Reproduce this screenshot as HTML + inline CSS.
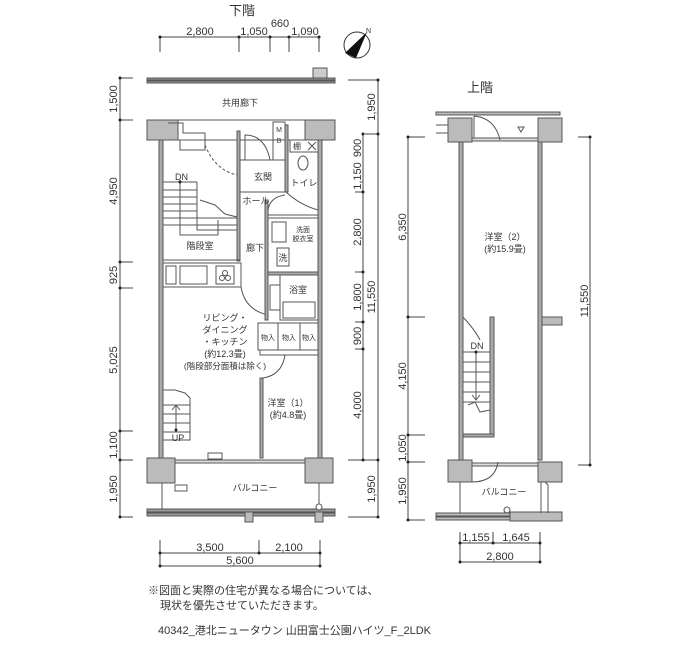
<!DOCTYPE html>
<html><head><meta charset="utf-8"><style>
html,body{margin:0;padding:0;background:#fff;}
svg{display:block;}
text{font-family:"Liberation Sans","Noto Sans CJK JP",sans-serif;fill:#333;}
.d{font-size:11px;}
.l{font-size:9px;}
</style></head><body>
<svg width="700" height="650" viewBox="0 0 700 650" xmlns="http://www.w3.org/2000/svg">
<g stroke="#444" stroke-width="1" fill="none">
<line x1="160" y1="37" x2="319" y2="37"/>
<line x1="160" y1="37" x2="160" y2="52"/><line x1="239" y1="37" x2="239" y2="52"/><line x1="270" y1="37" x2="270" y2="52"/><line x1="289" y1="37" x2="289" y2="52"/><line x1="319" y1="37" x2="319" y2="52"/>
<line x1="120" y1="78" x2="120" y2="517"/>
<line x1="120" y1="78" x2="133" y2="78"/><line x1="120" y1="120" x2="133" y2="120"/><line x1="120" y1="262" x2="133" y2="262"/><line x1="120" y1="288" x2="133" y2="288"/><line x1="120" y1="431" x2="133" y2="431"/><line x1="120" y1="460" x2="133" y2="460"/><line x1="120" y1="517" x2="133" y2="517"/>
<line x1="378" y1="80" x2="378" y2="517"/>
<line x1="348" y1="80" x2="378" y2="80"/><line x1="365" y1="134" x2="378" y2="134"/><line x1="348" y1="460" x2="378" y2="460"/><line x1="348" y1="517" x2="378" y2="517"/>
<line x1="363" y1="134" x2="363" y2="460"/>
<line x1="355" y1="192" x2="363" y2="192"/><line x1="355" y1="272" x2="363" y2="272"/><line x1="355" y1="322" x2="363" y2="322"/><line x1="355" y1="349" x2="363" y2="349"/>
<line x1="160" y1="553" x2="320" y2="553"/><line x1="160" y1="566" x2="320" y2="566"/>
<line x1="160" y1="540" x2="160" y2="566"/><line x1="259" y1="540" x2="259" y2="553"/><line x1="320" y1="540" x2="320" y2="566"/>
<line x1="408" y1="137" x2="408" y2="520"/>
<line x1="408" y1="137" x2="425" y2="137"/><line x1="408" y1="317" x2="425" y2="317"/><line x1="408" y1="435" x2="425" y2="435"/><line x1="408" y1="462" x2="425" y2="462"/><line x1="408" y1="520" x2="425" y2="520"/>
<line x1="590" y1="137" x2="590" y2="465"/><line x1="578" y1="137" x2="590" y2="137"/><line x1="578" y1="465" x2="590" y2="465"/>
<line x1="460" y1="543" x2="540" y2="543"/><line x1="460" y1="562" x2="540" y2="562"/>
<line x1="460" y1="532" x2="460" y2="562"/><line x1="493" y1="532" x2="493" y2="543"/><line x1="540" y1="532" x2="540" y2="562"/>
</g>
<g fill="#222">
<circle cx="160" cy="37" r="1.5"/><circle cx="239" cy="37" r="1.5"/><circle cx="270" cy="37" r="1.5"/><circle cx="289" cy="37" r="1.5"/><circle cx="319" cy="37" r="1.5"/>
<circle cx="120" cy="78" r="1.5"/><circle cx="120" cy="120" r="1.5"/><circle cx="120" cy="262" r="1.5"/><circle cx="120" cy="288" r="1.5"/><circle cx="120" cy="431" r="1.5"/><circle cx="120" cy="460" r="1.5"/><circle cx="120" cy="517" r="1.5"/>
<circle cx="378" cy="80" r="1.5"/><circle cx="378" cy="134" r="1.5"/><circle cx="363" cy="134" r="1.5"/><circle cx="363" cy="192" r="1.5"/><circle cx="363" cy="272" r="1.5"/><circle cx="363" cy="322" r="1.5"/><circle cx="363" cy="349" r="1.5"/><circle cx="363" cy="460" r="1.5"/><circle cx="378" cy="460" r="1.5"/><circle cx="378" cy="517" r="1.5"/>
<circle cx="160" cy="553" r="1.5"/><circle cx="259" cy="553" r="1.5"/><circle cx="320" cy="553" r="1.5"/><circle cx="160" cy="566" r="1.5"/><circle cx="320" cy="566" r="1.5"/>
<circle cx="408" cy="137" r="1.5"/><circle cx="408" cy="317" r="1.5"/><circle cx="408" cy="435" r="1.5"/><circle cx="408" cy="462" r="1.5"/><circle cx="408" cy="520" r="1.5"/>
<circle cx="590" cy="137" r="1.5"/><circle cx="590" cy="465" r="1.5"/>
<circle cx="460" cy="543" r="1.5"/><circle cx="493" cy="543" r="1.5"/><circle cx="540" cy="543" r="1.5"/><circle cx="460" cy="562" r="1.5"/><circle cx="540" cy="562" r="1.5"/>
</g>
<text x="242" y="15" font-size="13" text-anchor="middle">下階</text>
<text x="200" y="35" class="d" text-anchor="middle">2,800</text>
<text x="254" y="35" class="d" text-anchor="middle">1,050</text>
<text x="280" y="27" class="d" text-anchor="middle">660</text>
<text x="305" y="35" class="d" text-anchor="middle">1,090</text>
<g class="d" text-anchor="middle">
<text transform="translate(117,99) rotate(-90)">1,500</text>
<text transform="translate(117,191) rotate(-90)">4,950</text>
<text transform="translate(117,275) rotate(-90)">925</text>
<text transform="translate(117,360) rotate(-90)">5,025</text>
<text transform="translate(117,445) rotate(-90)">1,100</text>
<text transform="translate(117,489) rotate(-90)">1,950</text>
<text transform="translate(375,107) rotate(-90)">1,950</text>
<text transform="translate(361,148) rotate(-90)">900</text>
<text transform="translate(361,176) rotate(-90)">1,150</text>
<text transform="translate(361,232) rotate(-90)">2,800</text>
<text transform="translate(361,297) rotate(-90)">1,800</text>
<text transform="translate(361,336) rotate(-90)">900</text>
<text transform="translate(361,405) rotate(-90)">4,000</text>
<text transform="translate(375,489) rotate(-90)">1,950</text>
<text transform="translate(375,297) rotate(-90)">11,550</text>
<text transform="translate(406,227) rotate(-90)">6,350</text>
<text transform="translate(406,376) rotate(-90)">4,150</text>
<text transform="translate(406,448) rotate(-90)">1,050</text>
<text transform="translate(406,491) rotate(-90)">1,950</text>
<text transform="translate(588,301) rotate(-90)">11,550</text>
<text x="210" y="551">3,500</text><text x="289" y="551">2,100</text><text x="240" y="564">5,600</text>
<text x="476" y="541">1,155</text><text x="516" y="541">1,645</text><text x="500" y="560">2,800</text>
</g>
<text x="480" y="92" font-size="13" text-anchor="middle">上階</text>
<circle cx="357" cy="45" r="13" fill="#fff" stroke="#333"/>
<path d="M345,53 L367,32 L356,58 Z" fill="#111"/>
<text x="366" y="33" font-size="7">N</text>

<g stroke="#555" stroke-width="1">
<rect x="147" y="78" width="188" height="2" fill="#999"/>
<rect x="147" y="81" width="188" height="2" fill="#999"/>
<rect x="313" y="68" width="14" height="10" fill="#ccc"/>
<rect x="147" y="120" width="188" height="20" fill="#bbb"/>
<rect x="178" y="120" width="127" height="20" fill="#fff"/>
<rect x="159" y="140" width="4" height="320" fill="#aaa"/>
<rect x="318" y="140" width="4" height="320" fill="#aaa"/>
<rect x="147" y="458" width="28" height="25" fill="#bbb"/>
<rect x="305" y="458" width="28" height="25" fill="#bbb"/>
<rect x="175" y="460" width="130" height="3" fill="#ddd"/>
<rect x="147" y="509" width="188" height="3" fill="#999"/>
<rect x="147" y="513" width="188" height="3" fill="#999"/>
<rect x="245" y="512" width="8" height="10" fill="#bbb"/>
<rect x="315" y="512" width="8" height="10" fill="#bbb"/>
<line x1="162" y1="483" x2="162" y2="509"/><line x1="319" y1="483" x2="319" y2="509"/>
<circle cx="319" cy="507" r="3" fill="#fff"/>
<rect x="208" y="453" width="14" height="6" fill="#fff"/>
<rect x="175" y="485" width="12" height="6" fill="#fff"/>
</g>
<g stroke="#555" stroke-width="1" fill="none">
<path d="M168,123 H183 V133 H205 V150 H180 V140"/>
<rect x="237" y="131" width="3" height="130" fill="#aaa"/>
<path d="M205,145 Q215,170 237,175" stroke-dasharray="3,2"/>
<line x1="163" y1="260" x2="240" y2="260"/>
<line x1="163" y1="182" x2="197" y2="182"/><line x1="163" y1="190" x2="197" y2="190"/><line x1="163" y1="197" x2="197" y2="197"/><line x1="163" y1="204" x2="197" y2="204"/><line x1="163" y1="211" x2="197" y2="211"/><line x1="163" y1="218" x2="237" y2="218"/><line x1="163" y1="225" x2="237" y2="225"/>
<path d="M197,182 V230 H237"/>
<path d="M180,180 V235 H218 V220"/>
<path d="M200,200 L215,205 L225,214 L237,217"/>
<rect x="163" y="263" width="78" height="24"/>
<rect x="166" y="266" width="10" height="18"/>
<rect x="180" y="266" width="27" height="18"/>
<rect x="216" y="266" width="18" height="18"/>
<circle cx="222" cy="278" r="2.5"/><circle cx="228" cy="278" r="2.5"/><circle cx="225" cy="273" r="2.5"/>
<path d="M241,287 Q245,310 268,315"/>
<line x1="240" y1="160" x2="285" y2="160"/>
<rect x="240" y="160" width="46" height="32"/>
<path d="M245,160 V135 Q265,135 270,160"/>
<rect x="273" y="122" width="12" height="38"/>
<rect x="290" y="140" width="28" height="12"/>
<path d="M308,142 L316,150 M316,142 L308,150"/>
<ellipse cx="303" cy="163" rx="5" ry="7"/>
<rect x="285" y="125" width="3" height="67" fill="#aaa"/>
<path d="M286,192 Q300,205 318,210"/>
<rect x="265" y="200" width="3" height="120" fill="#aaa"/>
<path d="M268,210 Q270,197 285,195"/>
<rect x="268" y="215" width="50" height="3"/>
<rect x="272" y="222" width="14" height="20"/>
<rect x="277" y="248" width="12" height="18"/>
<rect x="268" y="272" width="50" height="3" fill="#aaa"/>
<rect x="280" y="275" width="38" height="45"/>
<rect x="283" y="302" width="32" height="16"/>
<rect x="270" y="285" width="10" height="25"/>
<rect x="258" y="323" width="60" height="27"/>
<line x1="278" y1="323" x2="278" y2="350"/><line x1="300" y1="323" x2="300" y2="350"/>
<rect x="260" y="350" width="58" height="5"/>
<rect x="260" y="378" width="3" height="80" fill="#aaa"/>
<path d="M263,378 Q282,375 285,355"/>
<path d="M163,390 H175 L185,393 L190,398 V440 H163"/>
<line x1="163" y1="405" x2="190" y2="405"/><line x1="163" y1="414" x2="190" y2="414"/><line x1="163" y1="423" x2="190" y2="423"/><line x1="163" y1="432" x2="190" y2="432"/>
<line x1="176" y1="430" x2="176" y2="405"/><path d="M172,410 L176,405 L180,410"/>
</g>
<circle cx="176" cy="430" r="1.5" fill="#222"/>
<circle cx="180" cy="182" r="1.5" fill="#222"/>

<g class="l">
<text x="240" y="106" text-anchor="middle">共用廊下</text>
<text x="175" y="180">DN</text>
<text x="200" y="249" text-anchor="middle">階段室</text>
<text x="263" y="180" text-anchor="middle">玄関</text>
<text x="304" y="186" text-anchor="middle">トイレ</text>
<text x="256" y="204" text-anchor="middle">ホール</text>
<text x="255" y="251" text-anchor="middle">廊下</text>
<text x="303" y="232" text-anchor="middle" font-size="7">洗面</text>
<text x="303" y="241" text-anchor="middle" font-size="7">脱衣室</text>
<text x="283" y="261" text-anchor="middle">洗</text>
<text x="298" y="293" text-anchor="middle">浴室</text>
<text x="279" y="132" text-anchor="middle" font-size="7">M</text>
<text x="279" y="143" text-anchor="middle" font-size="7">B</text>
<text x="297" y="149" text-anchor="middle" font-size="8">棚</text>
<text x="225" y="321" text-anchor="middle">リビング・</text>
<text x="225" y="333" text-anchor="middle">ダイニング</text>
<text x="225" y="345" text-anchor="middle">・キッチン</text>
<text x="225" y="357" text-anchor="middle">(約12.3畳)</text>
<text x="225" y="369" text-anchor="middle" font-size="8.5">(階段部分面積は除く)</text>
<text x="268" y="340" text-anchor="middle" font-size="7">物入</text>
<text x="289" y="340" text-anchor="middle" font-size="7">物入</text>
<text x="309" y="340" text-anchor="middle" font-size="7">物入</text>
<text x="288" y="406" text-anchor="middle">洋室（1）</text>
<text x="288" y="418" text-anchor="middle">(約4.8畳)</text>
<text x="178" y="441" text-anchor="middle">UP</text>
<text x="255" y="491" text-anchor="middle">バルコニー</text>
<text x="505" y="240" text-anchor="middle">洋室（2）</text>
<text x="505" y="252" text-anchor="middle">(約15.9畳)</text>
<text x="477" y="349" text-anchor="middle">DN</text>
<text x="504" y="495" text-anchor="middle">バルコニー</text>
</g>

<g stroke="#555" stroke-width="1">
<rect x="436" y="112" width="124" height="3" fill="#bbb"/>
<rect x="448" y="118" width="24" height="24" fill="#bbb"/>
<rect x="538" y="118" width="24" height="24" fill="#bbb"/>
<rect x="472" y="138" width="66" height="3" fill="#ddd"/>
<rect x="459" y="142" width="4" height="318" fill="#aaa"/>
<rect x="538" y="142" width="4" height="318" fill="#aaa"/>
<rect x="542" y="317" width="20" height="8" fill="#bbb"/>
<rect x="448" y="460" width="24" height="22" fill="#bbb"/>
<rect x="538" y="462" width="24" height="20" fill="#bbb"/>
<rect x="472" y="463" width="66" height="3" fill="#ddd"/>
<rect x="436" y="513" width="80" height="3" fill="#bbb"/>
<rect x="436" y="517" width="80" height="3" fill="#bbb"/>
<rect x="510" y="512" width="52" height="9" fill="#bbb"/>
<line x1="460" y1="482" x2="460" y2="513"/>
<path d="M541,482 V513 M545,482 L548,485 V513" fill="none"/>
<circle cx="507" cy="510" r="3" fill="#fff"/>
</g>
<g stroke="#555" stroke-width="1" fill="none">
<path d="M436,125 H448 M436,133 H448"/>
<path d="M474,116 Q495,118 500,140 M474,116 V138"/>
<path d="M518,127 L524,127 L521,132 Z"/>
<path d="M463,317 Q475,330 480,340"/>
<rect x="490" y="317" width="4" height="120" fill="#aaa"/>
<rect x="463" y="434" width="31" height="3" fill="#aaa"/>
<line x1="463" y1="352" x2="490" y2="352"/><line x1="463" y1="362" x2="490" y2="362"/><line x1="463" y1="372" x2="490" y2="372"/><line x1="463" y1="382" x2="490" y2="382"/><line x1="463" y1="392" x2="490" y2="392"/><line x1="463" y1="402" x2="490" y2="402"/>
<path d="M468,405 L475,402 L480,412 L490,410"/>
<line x1="476" y1="352" x2="476" y2="400"/><path d="M472,395 L476,400 L480,395"/>
<path d="M472,482 Q495,482 498,462"/>
</g>
<circle cx="476" cy="352" r="1.5" fill="#222"/>

<text x="148" y="594" font-size="11">※図面と実際の住宅が異なる場合については、</text>
<text x="160" y="609" font-size="11">現状を優先させていただきます。</text>
<text x="158" y="634" font-size="11">40342_港北ニュータウン 山田富士公園ハイツ_F_2LDK</text>
</svg>
</body></html>
